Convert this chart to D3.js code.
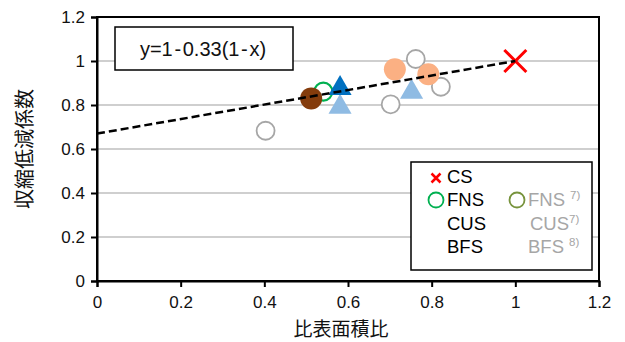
<!DOCTYPE html>
<html>
<head>
<meta charset="utf-8">
<script src="https://cdn.jsdelivr.net/npm/d3@7"></script>
<style>
  body { margin: 0; background: #fff; }
  svg { font-family: "Liberation Sans", Arial, sans-serif; }
</style>
</head>
<body>
<div id="chart"></div>
<script>
// data: [比表面積比, 収縮低減係数]
const csPts = [[1.0, 1.0]]
const fnsPts = [[0.541, 0.861]]
const cusPts = [[0.581, 0.885]]
const bfsPts = [[0.512, 0.83]]
const fnsRefPts = [[0.403, 0.683], [0.702, 0.803], [0.762, 1.009], [0.822, 0.883]]
const cusRefPts = [[0.581, 0.80], [0.752, 0.868]]
const bfsRefPts = [[0.712, 0.962], [0.792, 0.94]]
const trendX = [0, 1]
const xTicks = [0, 0.2, 0.4, 0.6, 0.8, 1, 1.2]
const yTicks = [0, 0.2, 0.4, 0.6, 0.8, 1, 1.2]

const w = 625
const h = 342
const pl = 97, pr = 599, pt = 17, pb = 281

const svg = d3.select('#chart').append('svg').attr('width', w).attr('height', h)
const x = d3.scaleLinear().domain([0, 1.2]).range([pl, pr])
const y = d3.scaleLinear().domain([0, 1.2]).range([pb, pt])

// gridlines
svg.append('g').selectAll('line')
    .data(yTicks.filter(d => d > 0 && d < 1.2))
    .enter()
    .append('line')
    .attr('x1', pl).attr('x2', pr)
    .attr('y1', d => y(d)).attr('y2', d => y(d))
    .attr('stroke', '#bfbfbf').attr('stroke-width', 1.5)

// frame
svg.append('rect')
    .attr('x', pl).attr('y', pt)
    .attr('width', pr - pl).attr('height', pb - pt)
    .attr('fill', 'none').attr('stroke', '#000').attr('stroke-width', 2)

const fmt = d => d3.format('~g')(d)
const xAxis = svg.append('g').attr('transform', `translate(0,${pb})`)
    .call(d3.axisBottom(x).tickValues(xTicks).tickSize(6).tickFormat(fmt))
const yAxis = svg.append('g').attr('transform', `translate(${pl},0)`)
    .call(d3.axisLeft(y).tickValues(yTicks).tickSize(6).tickFormat(fmt))
;[xAxis, yAxis].forEach(a => {
    a.select('.domain').attr('stroke', '#000').attr('stroke-width', 2)
    a.selectAll('.tick line').attr('stroke', '#000').attr('stroke-width', 2)
    a.selectAll('.tick text').attr('font-size', '17px').attr('fill', '#111')
        .attr('font-family', '"Liberation Sans", Arial, sans-serif')
})
xAxis.selectAll('.tick text').attr('dy', '1.05em')
yAxis.selectAll('.tick text').attr('x', -12).attr('dy', '0.35em')

// equation box
svg.append('rect').attr('x', 115).attr('y', 27).attr('width', 178).attr('height', 43)
    .attr('fill', '#fff').attr('stroke', '#000').attr('stroke-width', 1.5)
svg.append('text').attr('x', 203).attr('y', 56).attr('text-anchor', 'middle')
    .attr('font-size', '20px').attr('fill', '#111')
    .text('y=1\u200a-\u200a0.33(1\u200a-\u200ax)')

// markers
const tri = d3.symbol().type(d3.symbolTriangle).size(230)
function circles(data, r, fill, stroke, sw) {
    svg.append('g').selectAll('circle').data(data).enter().append('circle')
        .attr('cx', d => x(d[0])).attr('cy', d => y(d[1])).attr('r', r)
        .attr('fill', fill).attr('stroke', stroke).attr('stroke-width', sw)
}
function triangles(data, fill) {
    svg.append('g').selectAll('path').data(data).enter().append('path')
        .attr('d', tri)
        .attr('transform', d => `translate(${x(d[0])},${y(d[1]) + 2})`)
        .attr('fill', fill)
}
circles(fnsRefPts, 9, '#fff', '#a6a6a6', 1.8)
triangles(cusRefPts, '#8fbbe3')
circles(bfsRefPts, 11, '#fbb083', 'none', 0)
circles(fnsPts, 9, 'none', '#00b050', 2.2)
circles(bfsPts, 11, '#843c0c', 'none', 0)
triangles(cusPts, '#0070c0')

// CS cross
svg.append('g').selectAll('path').data(csPts).enter().append('path')
    .attr('d', 'M-11,-11L11,11M-11,11L11,-11')
    .attr('transform', d => `translate(${x(d[0])},${y(d[1])})`)
    .attr('stroke', '#ff0000').attr('stroke-width', 3).attr('fill', 'none')

// trend line y = 1 - 0.33(1 - x)
const line = d3.line().x(d => x(d)).y(d => y(1 - 0.33 * (1 - d)))
svg.append('path').datum(trendX).attr('d', line)
    .attr('fill', 'none').attr('stroke', '#000').attr('stroke-width', 2.5)
    .attr('stroke-dasharray', '8,4')

// legend
const lg = svg.append('g')
lg.append('rect').attr('x', 411).attr('y', 162).attr('width', 181).attr('height', 108)
    .attr('fill', '#fff').attr('stroke', '#000').attr('stroke-width', 1.5)
lg.append('path').attr('d', 'M-4.5,-4.5L4.5,4.5M-4.5,4.5L4.5,-4.5')
    .attr('transform', 'translate(436,178)')
    .attr('stroke', '#ff0000').attr('stroke-width', 2.5)
lg.append('circle').attr('cx', 436).attr('cy', 200).attr('r', 7.5)
    .attr('fill', 'none').attr('stroke', '#00b050').attr('stroke-width', 1.8)
lg.append('circle').attr('cx', 517).attr('cy', 200).attr('r', 7.5)
    .attr('fill', 'none').attr('stroke', '#77933c').attr('stroke-width', 1.8)

const leftLabels = ['CS', 'FNS', 'CUS', 'BFS']
lg.selectAll('text.l').data(leftLabels).enter().append('text')
    .attr('x', 447).attr('y', (d, i) => 183 + i * 23.3)
    .attr('font-size', '18.5px').attr('fill', '#000').text(d => d)

const rightLabels = [['FNS', '7)', 528, 5], ['CUS', '7)', 530, 0], ['BFS', '8)', 528, 5]]
rightLabels.forEach((d, i) => {
    const t = lg.append('text').attr('x', d[2]).attr('y', 206.3 + i * 23.3)
        .attr('font-size', '18.5px').attr('fill', '#a6a6a6')
    t.append('tspan').text(d[0])
    t.append('tspan').attr('dx', d[3]).attr('dy', -7)
        .attr('font-size', '11.5px').text(d[1])
})

// axis titles
svg.append('text').attr('x', 341).attr('y', 336).attr('text-anchor', 'middle')
    .attr('font-family', '"Noto Sans CJK JP", sans-serif').attr('font-size', '19px')
    .attr('fill', '#111').text('比表面積比')
svg.append('text').attr('transform', 'translate(32,149) rotate(-90)').attr('text-anchor', 'middle')
    .attr('font-family', '"Noto Sans CJK JP", sans-serif').attr('font-size', '20px')
    .attr('fill', '#111').text('収縮低減係数')
</script>
</body>
</html>
